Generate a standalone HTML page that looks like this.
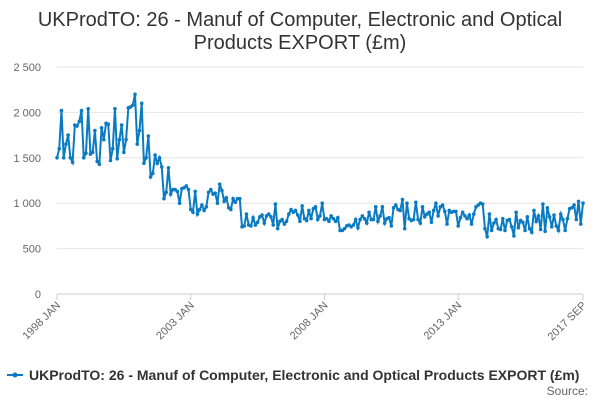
<!DOCTYPE html>
<html><head><meta charset="utf-8"><style>
body{margin:0;background:#fff;font-family:"Liberation Sans",sans-serif}
svg text{font-family:"Liberation Sans",sans-serif}
</style></head><body>
<svg width="600" height="400" id="c">
<text x="300" y="26" text-anchor="middle" font-size="20" fill="#333">UKProdTO: 26 - Manuf of Computer, Electronic and Optical</text>
<text x="300" y="49" text-anchor="middle" font-size="20" fill="#333">Products EXPORT (£m)</text>
<g id="grid"></g><g id="xa"></g>
<path id="line" fill="none" stroke="#0a7bc2" stroke-width="2"/>
<g id="pts"></g>
<g>
<line x1="7" y1="375" x2="23" y2="375" stroke="#0a7bc2" stroke-width="2"/>
<circle cx="15" cy="375" r="2.5" fill="#0a7bc2"/>
<text x="29" y="380" font-size="14" font-weight="bold" fill="#333">UKProdTO: 26 - Manuf of Computer, Electronic and Optical Products EXPORT (£m)</text>
</g>
<text x="588" y="395" text-anchor="end" font-size="12" fill="#666">Source:</text>
</svg>
<script>
const yTicks=[0,500,1000,1500,2000,2500];
const yTickLabels=["0","500","1 000","1 500","2 000","2 500"];
const xTickIdx=[0,60,120,180,236];
const xTickLabels=["1998 JAN","2003 JAN","2008 JAN","2013 JAN","2017 SEP"];
const values=[
1500,1600,2020,1500,1650,1750,1500,1450,1860,1850,1900,2020,
1500,1550,2040,1540,1560,1800,1460,1430,1830,1700,1880,1870,
1470,1600,2040,1490,1700,1860,1560,1700,2050,2060,2080,2200,
1650,1800,2100,1440,1500,1740,1290,1330,1530,1440,1500,1400,
1050,1120,1390,1100,1150,1150,1130,1000,1160,1170,1190,1150,
930,900,1130,880,930,980,920,960,1120,1150,1100,1110,
1000,1210,1140,1020,1060,950,930,1050,1010,1050,1050,740,
750,880,760,750,840,760,790,850,870,780,860,880,
850,760,990,720,800,820,770,800,880,930,900,920,
870,800,970,830,810,920,830,940,960,820,860,1000,
820,830,800,860,830,800,840,700,700,720,750,760,
740,760,820,730,820,860,830,780,900,820,820,960,
800,860,960,780,830,840,750,950,980,930,920,1040,
720,1000,830,810,820,1010,820,780,960,850,880,900,
790,920,1000,860,960,980,910,770,920,900,910,910,
750,840,900,860,830,870,770,880,960,980,1000,990,
720,630,880,700,780,820,720,710,830,700,810,820,
740,640,900,730,810,790,700,850,720,680,920,800,
860,710,990,690,950,850,740,870,750,700,880,820,
700,830,940,950,980,820,1020,770,1000];
const NS="http://www.w3.org/2000/svg";
const x0=57,x1=583,yb=294,yt=67;
const X=i=>x0+(x1-x0)*i/(values.length-1);
const Y=v=>yb-(yb-yt)*v/2500;
const g=document.getElementById('grid');
yTicks.forEach((t,k)=>{
 const l=document.createElementNS(NS,'line');
 
 
 l.setAttribute('x1',x0);l.setAttribute('x2',x1);l.setAttribute('y1',Y(t));l.setAttribute('y2',Y(t));
 l.setAttribute('stroke',t===0?'#ccc':'#e6e6e6');g.appendChild(l);
 const tx=document.createElementNS(NS,'text');
 
 
 tx.setAttribute('x',41);tx.setAttribute('y',Y(t)+4);tx.setAttribute('text-anchor','end');
 tx.setAttribute('font-size','11');tx.setAttribute('fill','#666');tx.textContent=yTickLabels[k];g.appendChild(tx);
});
const xa=document.getElementById('xa');
xTickIdx.forEach((i,k)=>{
 const l=document.createElementNS(NS,'line');
 
 
 l.setAttribute('x1',X(i));l.setAttribute('x2',X(i));l.setAttribute('y1',yb);l.setAttribute('y2',yb+6);
 l.setAttribute('stroke','#ccc');xa.appendChild(l);
 const tx=document.createElementNS(NS,'text');
 
 
 const px=X(i)+4,py=yb+12;
 tx.setAttribute('x',px);tx.setAttribute('y',py);tx.setAttribute('text-anchor','end');
 tx.setAttribute('transform','rotate(-45 '+px+' '+py+')');
 tx.setAttribute('font-size','11');tx.setAttribute('fill','#666');tx.textContent=xTickLabels[k];xa.appendChild(tx);
});
let d='';const pts=document.getElementById('pts');
values.forEach((v,i)=>{
 d+=(i?'L':'M')+X(i).toFixed(2)+' '+Y(v).toFixed(2);
 const c=document.createElementNS(NS,'circle');
 
 
 c.setAttribute('cx',X(i));c.setAttribute('cy',Y(v));c.setAttribute('r',1.8);c.setAttribute('fill','#0a7bc2');
 pts.appendChild(c);
});
document.getElementById('line').setAttribute('d',d);
</script>
</body></html>
